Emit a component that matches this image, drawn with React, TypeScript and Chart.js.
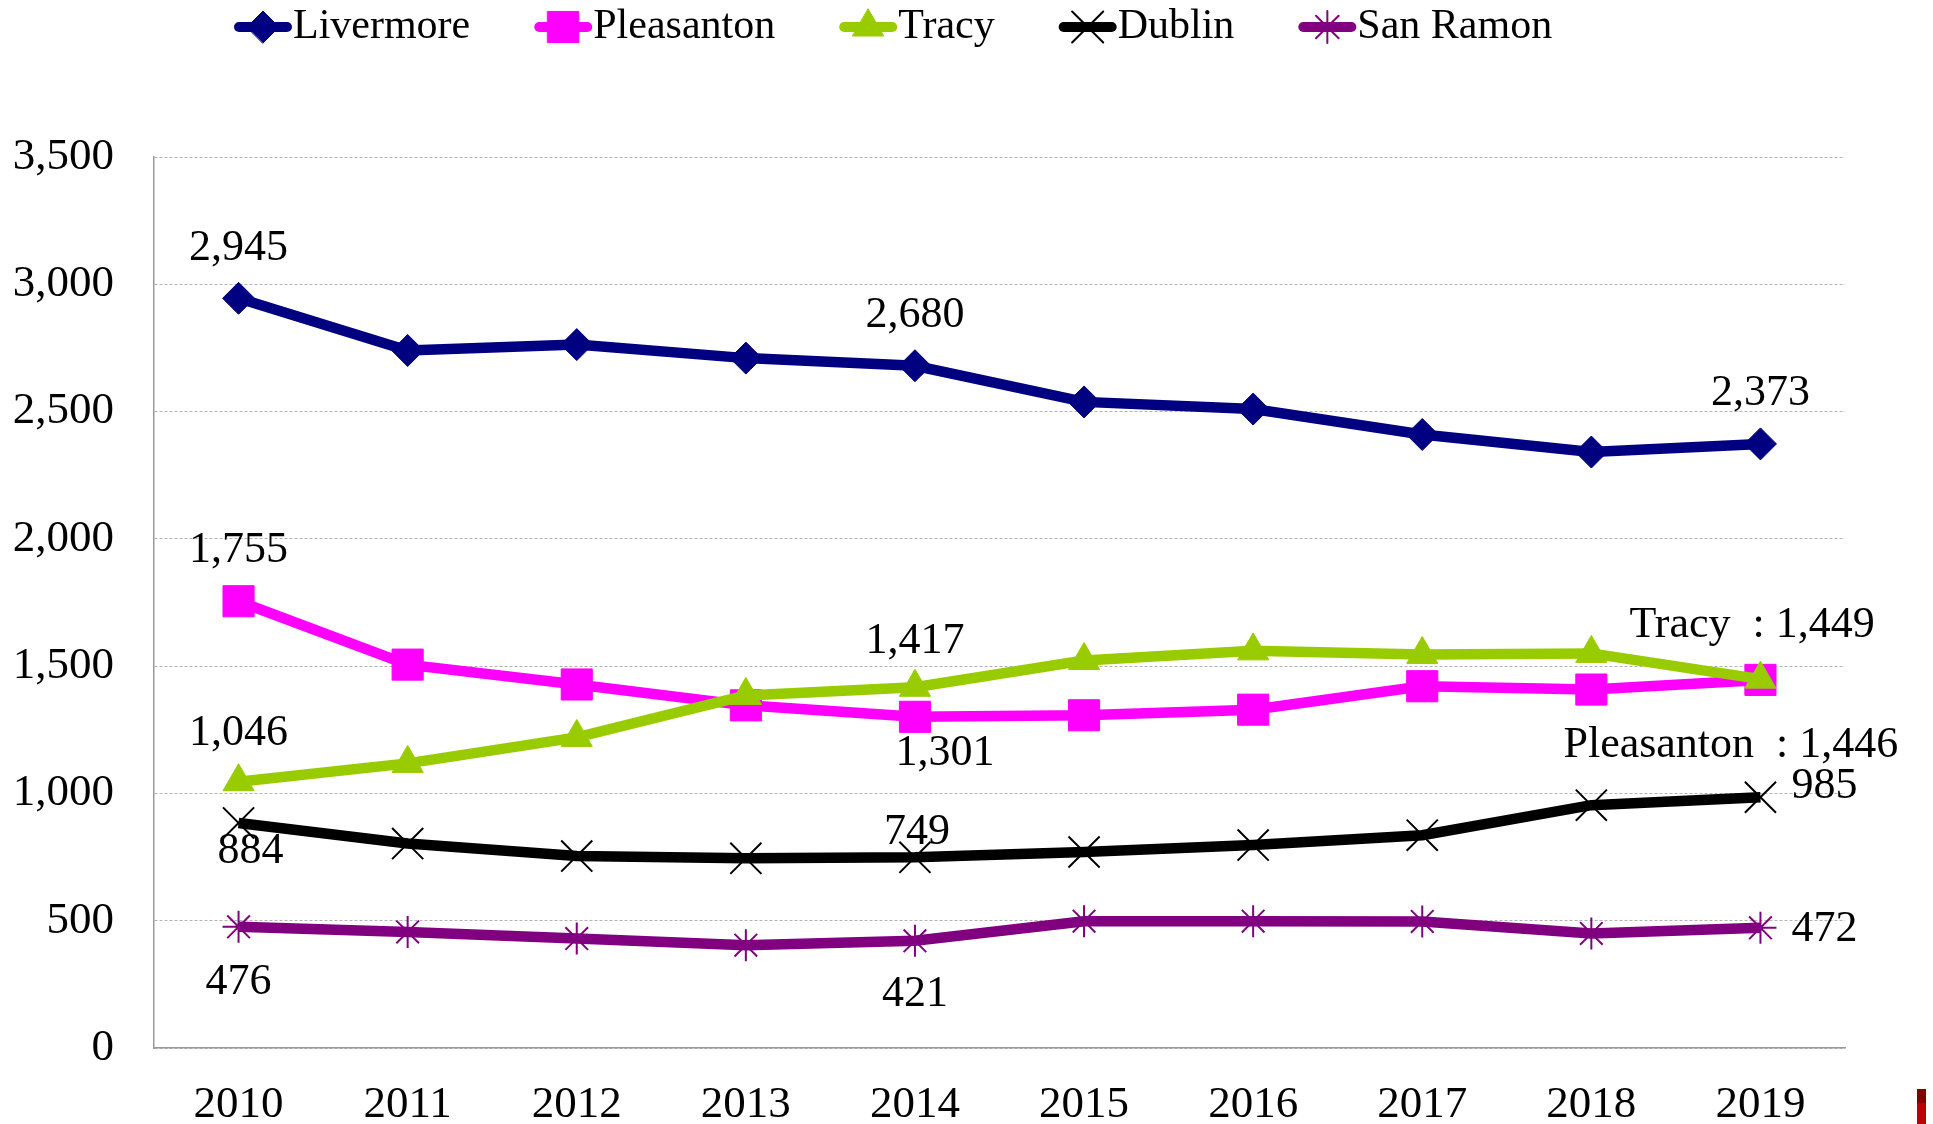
import React, { useEffect, useRef } from 'react';
import { Chart, registerables } from 'chart.js';
import { drawPoint } from 'chart.js/helpers';

Chart.register(...registerables);

const years = ['2010', '2011', '2012', '2013', '2014', '2015', '2016', '2017', '2018', '2019'];
const livermore = [2945, 2740, 2763, 2710, 2680, 2538, 2510, 2410, 2341, 2373];
const pleasanton = [1755, 1506, 1428, 1346, 1301, 1307, 1329, 1421, 1408, 1446];
const tracy = [1046, 1118, 1220, 1385, 1417, 1522, 1560, 1546, 1550, 1449];
const dublin = [884, 803, 754, 745, 749, 770, 797, 836, 954, 985];
const sanRamon = [476, 456, 430, 404, 421, 498, 498, 497, 450, 472];
const seriesNames = ['Livermore', 'Pleasanton', 'Tracy', 'Dublin', 'San Ramon'];
const yMin = 0;
const yMax = 3500;
const yStep = 500;

const FONT = '"Liberation Serif", "Times New Roman", serif';
const fmt = (v: number) => v.toLocaleString('en-US');

// Data-label placement (offsets in px from the point)
const labelSpecs = [
  { ds: 0, i: 0, dx: 0, dy: -50, align: 'center', prefix: '' },
  { ds: 0, i: 4, dx: 0, dy: -50, align: 'center', prefix: '' },
  { ds: 0, i: 9, dx: 0, dy: -50, align: 'center', prefix: '' },
  { ds: 1, i: 0, dx: 0, dy: -51, align: 'center', prefix: '' },
  { ds: 1, i: 4, dx: 30, dy: 37, align: 'center', prefix: '' },
  { ds: 1, i: 9, dx: -197, dy: 66, align: 'left', prefix: 'Pleasanton  : ' },
  { ds: 2, i: 0, dx: 0, dy: -48, align: 'center', prefix: '' },
  { ds: 2, i: 4, dx: 0, dy: -46, align: 'center', prefix: '' },
  { ds: 2, i: 9, dx: -131, dy: -54, align: 'left', prefix: 'Tracy  : ' },
  { ds: 3, i: 0, dx: 12, dy: 28, align: 'center', prefix: '' },
  { ds: 3, i: 4, dx: 2, dy: -25, align: 'center', prefix: '' },
  { ds: 3, i: 9, dx: 31, dy: -11, align: 'left', prefix: '' },
  { ds: 4, i: 0, dx: 0, dy: 56, align: 'center', prefix: '' },
  { ds: 4, i: 4, dx: 0, dy: 54, align: 'center', prefix: '' },
  { ds: 4, i: 9, dx: 31, dy: 2, align: 'left', prefix: '' },
];

const overlayPlugin = {
  id: 'overlay',
  afterDatasetsDraw(chart: any) {
    const ctx = chart.ctx;
    ctx.save();
    // data labels
    ctx.fillStyle = '#000';
    ctx.font = `44px ${FONT}`;
    ctx.textBaseline = 'middle';
    labelSpecs.forEach((s) => {
      const pt = chart.getDatasetMeta(s.ds).data[s.i];
      const v = chart.data.datasets[s.ds].data[s.i];
      ctx.textAlign = s.align;
      ctx.fillText(s.prefix + fmt(v), pt.x + s.dx, pt.y + s.dy);
    });
    // legend
    ctx.font = `42px ${FONT}`;
    ctx.textAlign = 'left';
    let x = 234;
    const y = 27;
    chart.data.datasets.forEach((ds: any) => {
      ctx.strokeStyle = ds.borderColor;
      ctx.lineWidth = 10;
      ctx.lineCap = 'round';
      ctx.beginPath();
      ctx.moveTo(x + 5, y);
      ctx.lineTo(x + 53, y);
      ctx.stroke();
      ctx.fillStyle = ds.pointBackgroundColor;
      ctx.strokeStyle = ds.pointBorderColor;
      ctx.lineWidth = ds.pointBorderWidth;
      drawPoint(ctx, { pointStyle: ds.pointStyle, radius: ds.pointRadius, borderWidth: ds.pointBorderWidth, rotation: 0 }, x + 29, y);
      ctx.fillStyle = '#000';
      ctx.fillText(ds.label, x + 59, y);
      x += 59 + ctx.measureText(ds.label).width + 64;
    });
    ctx.restore();
  },
  afterDraw(chart: any) {
    const ctx = chart.ctx;
    ctx.save();
    ctx.fillStyle = '#800000';
    ctx.fillRect(1917, 1089, 9, 14);
    ctx.fillStyle = '#C00000';
    ctx.fillRect(1917, 1103, 9, 21);
    ctx.restore();
  },
};

const seriesStyle = [
  { color: '#000080', pointStyle: 'rectRot', radius: 16, bw: 1 },
  { color: '#FF00FF', pointStyle: 'rect', radius: 22, bw: 1 },
  { color: '#99CC00', pointStyle: 'triangle', radius: 18, bw: 1 },
  { color: '#000000', pointStyle: 'crossRot', radius: 22, bw: 2 },
  { color: '#800080', pointStyle: 'star', radius: 16, bw: 2 },
];

export default function App() {
  const ref = useRef<HTMLCanvasElement>(null);
  useEffect(() => {
    if (!ref.current) return;
    const values = [livermore, pleasanton, tracy, dublin, sanRamon];
    const chart = new Chart(ref.current, {
      type: 'line',
      data: {
        labels: years,
        datasets: values.map((d, i) => ({
          label: seriesNames[i],
          data: d,
          borderColor: seriesStyle[i].color,
          backgroundColor: seriesStyle[i].color,
          pointBackgroundColor: seriesStyle[i].color,
          pointBorderColor: seriesStyle[i].color,
          pointBorderWidth: seriesStyle[i].bw,
          pointStyle: seriesStyle[i].pointStyle as any,
          pointRadius: seriesStyle[i].radius,
          borderWidth: 10.5,
          tension: 0,
          fill: false,
          order: 5 - i,
        })),
      },
      options: {
        responsive: false,
        animation: false,
        layout: { padding: { top: 157, right: 88, bottom: 0, left: 0 } },
        plugins: {
          legend: { display: false },
          tooltip: { enabled: false },
          title: { display: false },
        },
        scales: {
          x: {
            offset: true,
            grid: { display: false, drawTicks: false },
            border: { display: true, color: '#999999', width: 1.5 },
            ticks: { color: '#000', font: { family: FONT, size: 45 }, padding: 30, maxRotation: 0, autoSkip: false },
            afterFit: (s: any) => { s.height = 76; },
          },
          y: {
            min: yMin,
            max: yMax,
            grid: { color: '#B3B3B3', lineWidth: 1, drawTicks: false },
            border: { display: true, color: '#999999', width: 1.5, dash: [3, 2] },
            ticks: {
              stepSize: yStep,
              color: '#000',
              font: { family: FONT, size: 45 },
              padding: 40,
              callback: (v: any) => fmt(Number(v)),
            },
            afterFit: (s: any) => { s.width = 154; },
          },
        },
      },
      plugins: [overlayPlugin],
    });
    return () => chart.destroy();
  }, []);
  return (
    <div style={{ position: 'absolute', left: 0, top: 0, width: 1933, height: 1124, background: '#fff' }}>
      <canvas ref={ref} width={1933} height={1124} style={{ width: 1933, height: 1124 }} />
    </div>
  );
}
